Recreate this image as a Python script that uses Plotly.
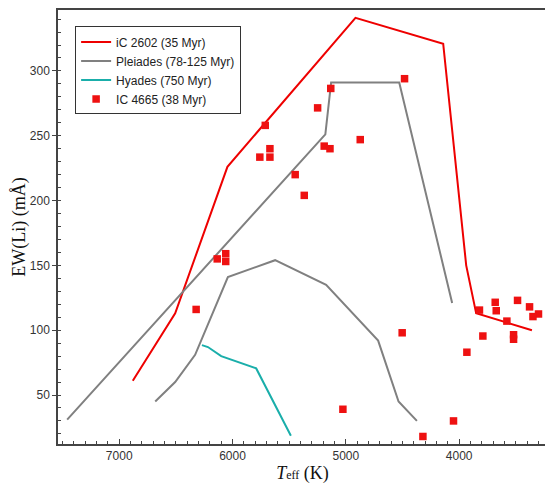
import plotly.graph_objects as go

# IC 2602 (35 Myr)
ic2602_teff = [6880, 6506, 6045, 4915, 4141, 3938, 3850, 3358]
ic2602_ew = [61, 113, 226, 341, 321, 150, 113, 100]

# Pleiades upper envelope
pl_up_teff = [7459, 5181, 5130, 4529, 4062]
pl_up_ew = [31, 251, 291, 291, 121]

# Pleiades lower envelope
pl_lo_teff = [6682, 6506, 6330, 6041, 5624, 5174, 4715, 4535, 4373]
pl_lo_ew = [45, 60, 81, 141, 154, 135, 92, 45, 30]

# Hyades (750 Myr)
hy_teff = [6270, 6217, 6100, 5791, 5485]
hy_ew = [88.5, 87, 80, 70.5, 18.6]

# IC 4665 (38 Myr)
ic4665_teff = [4482, 5133, 5249, 5711, 5670, 5670, 5759, 5191, 5140, 4873,
               5447, 5367, 6135, 6060, 6060, 6321, 5026, 4320, 4050, 4503,
               3821, 3682, 3673, 3485, 3379, 3300, 3349, 3579, 3791, 3520,
               3520, 3932]
ic4665_ew = [294, 286.5, 271.5, 258, 240, 233.5, 233.5, 242, 240, 247,
             220, 204, 155, 159, 153, 116, 39, 18, 30, 98,
             115.5, 121.5, 115, 123, 118, 112.5, 110.5, 107, 95.5, 96.5,
             93, 83]

fig = go.Figure()
fig.add_trace(go.Scatter(x=ic2602_teff, y=ic2602_ew, mode="lines",
                         line=dict(color="#ee0000", width=2),
                         name="iC 2602 (35 Myr)"))
fig.add_trace(go.Scatter(x=pl_up_teff, y=pl_up_ew, mode="lines",
                         line=dict(color="#808080", width=2),
                         name="Pleiades (78-125 Myr)", legendgroup="pl"))
fig.add_trace(go.Scatter(x=pl_lo_teff, y=pl_lo_ew, mode="lines",
                         line=dict(color="#808080", width=2),
                         name="Pleiades (78-125 Myr)", legendgroup="pl",
                         showlegend=False))
fig.add_trace(go.Scatter(x=hy_teff, y=hy_ew, mode="lines",
                         line=dict(color="#1aaeaa", width=2),
                         name="Hyades (750 Myr)"))
fig.add_trace(go.Scatter(x=ic4665_teff, y=ic4665_ew, mode="markers",
                         marker=dict(symbol="square", size=7.5, color="#ee1111",
                                     line=dict(width=0)),
                         name="IC 4665 (38 Myr)"))

axis_common = dict(showline=True, mirror=True, linecolor="#444", linewidth=1.5,
                   showgrid=False, zeroline=False, automargin=False,
                   tickfont=dict(family="Liberation Sans, Arial", size=12, color="#333"))

# the page body has an 8px margin, so the figure is sized/margined to compensate
fig.update_layout(
    width=545, height=480,
    margin=dict(l=50, r=6, t=2, b=44),
    plot_bgcolor="white", paper_bgcolor="white",
    showlegend=True,
    legend=dict(x=0.035, y=0.962, xanchor="left", yanchor="top",
                bgcolor="white", bordercolor="#333", borderwidth=1,
                font=dict(family="Liberation Sans, Arial", size=12, color="#222"),
                tracegroupgap=0, itemwidth=30),
    xaxis=dict(range=[7540, 3225], tickvals=[7000, 6000, 5000, 4000],
               ticks="inside", ticklen=5, tickcolor="#444",
               minor=dict(dtick=100, ticks="inside", ticklen=3, tickcolor="#444"),
               title=dict(text="<i>T</i><span style='font-size:12px'>eff</span> (K)",
                          font=dict(family="Liberation Serif, Times New Roman", size=18, color="#111"),
                          standoff=4),
               **axis_common),
    yaxis=dict(range=[12.2, 347], tickvals=[50, 100, 150, 200, 250, 300],
               ticks="outside", ticklen=4, tickcolor="#444",
               minor=dict(dtick=10, ticks="inside", ticklen=3, tickcolor="#444"),
               title=dict(text="EW(Li) (mÅ)",
                          font=dict(family="Liberation Serif, Times New Roman", size=18, color="#111"),
                          standoff=0),
               **axis_common),
)

fig.write_html("out.html")
